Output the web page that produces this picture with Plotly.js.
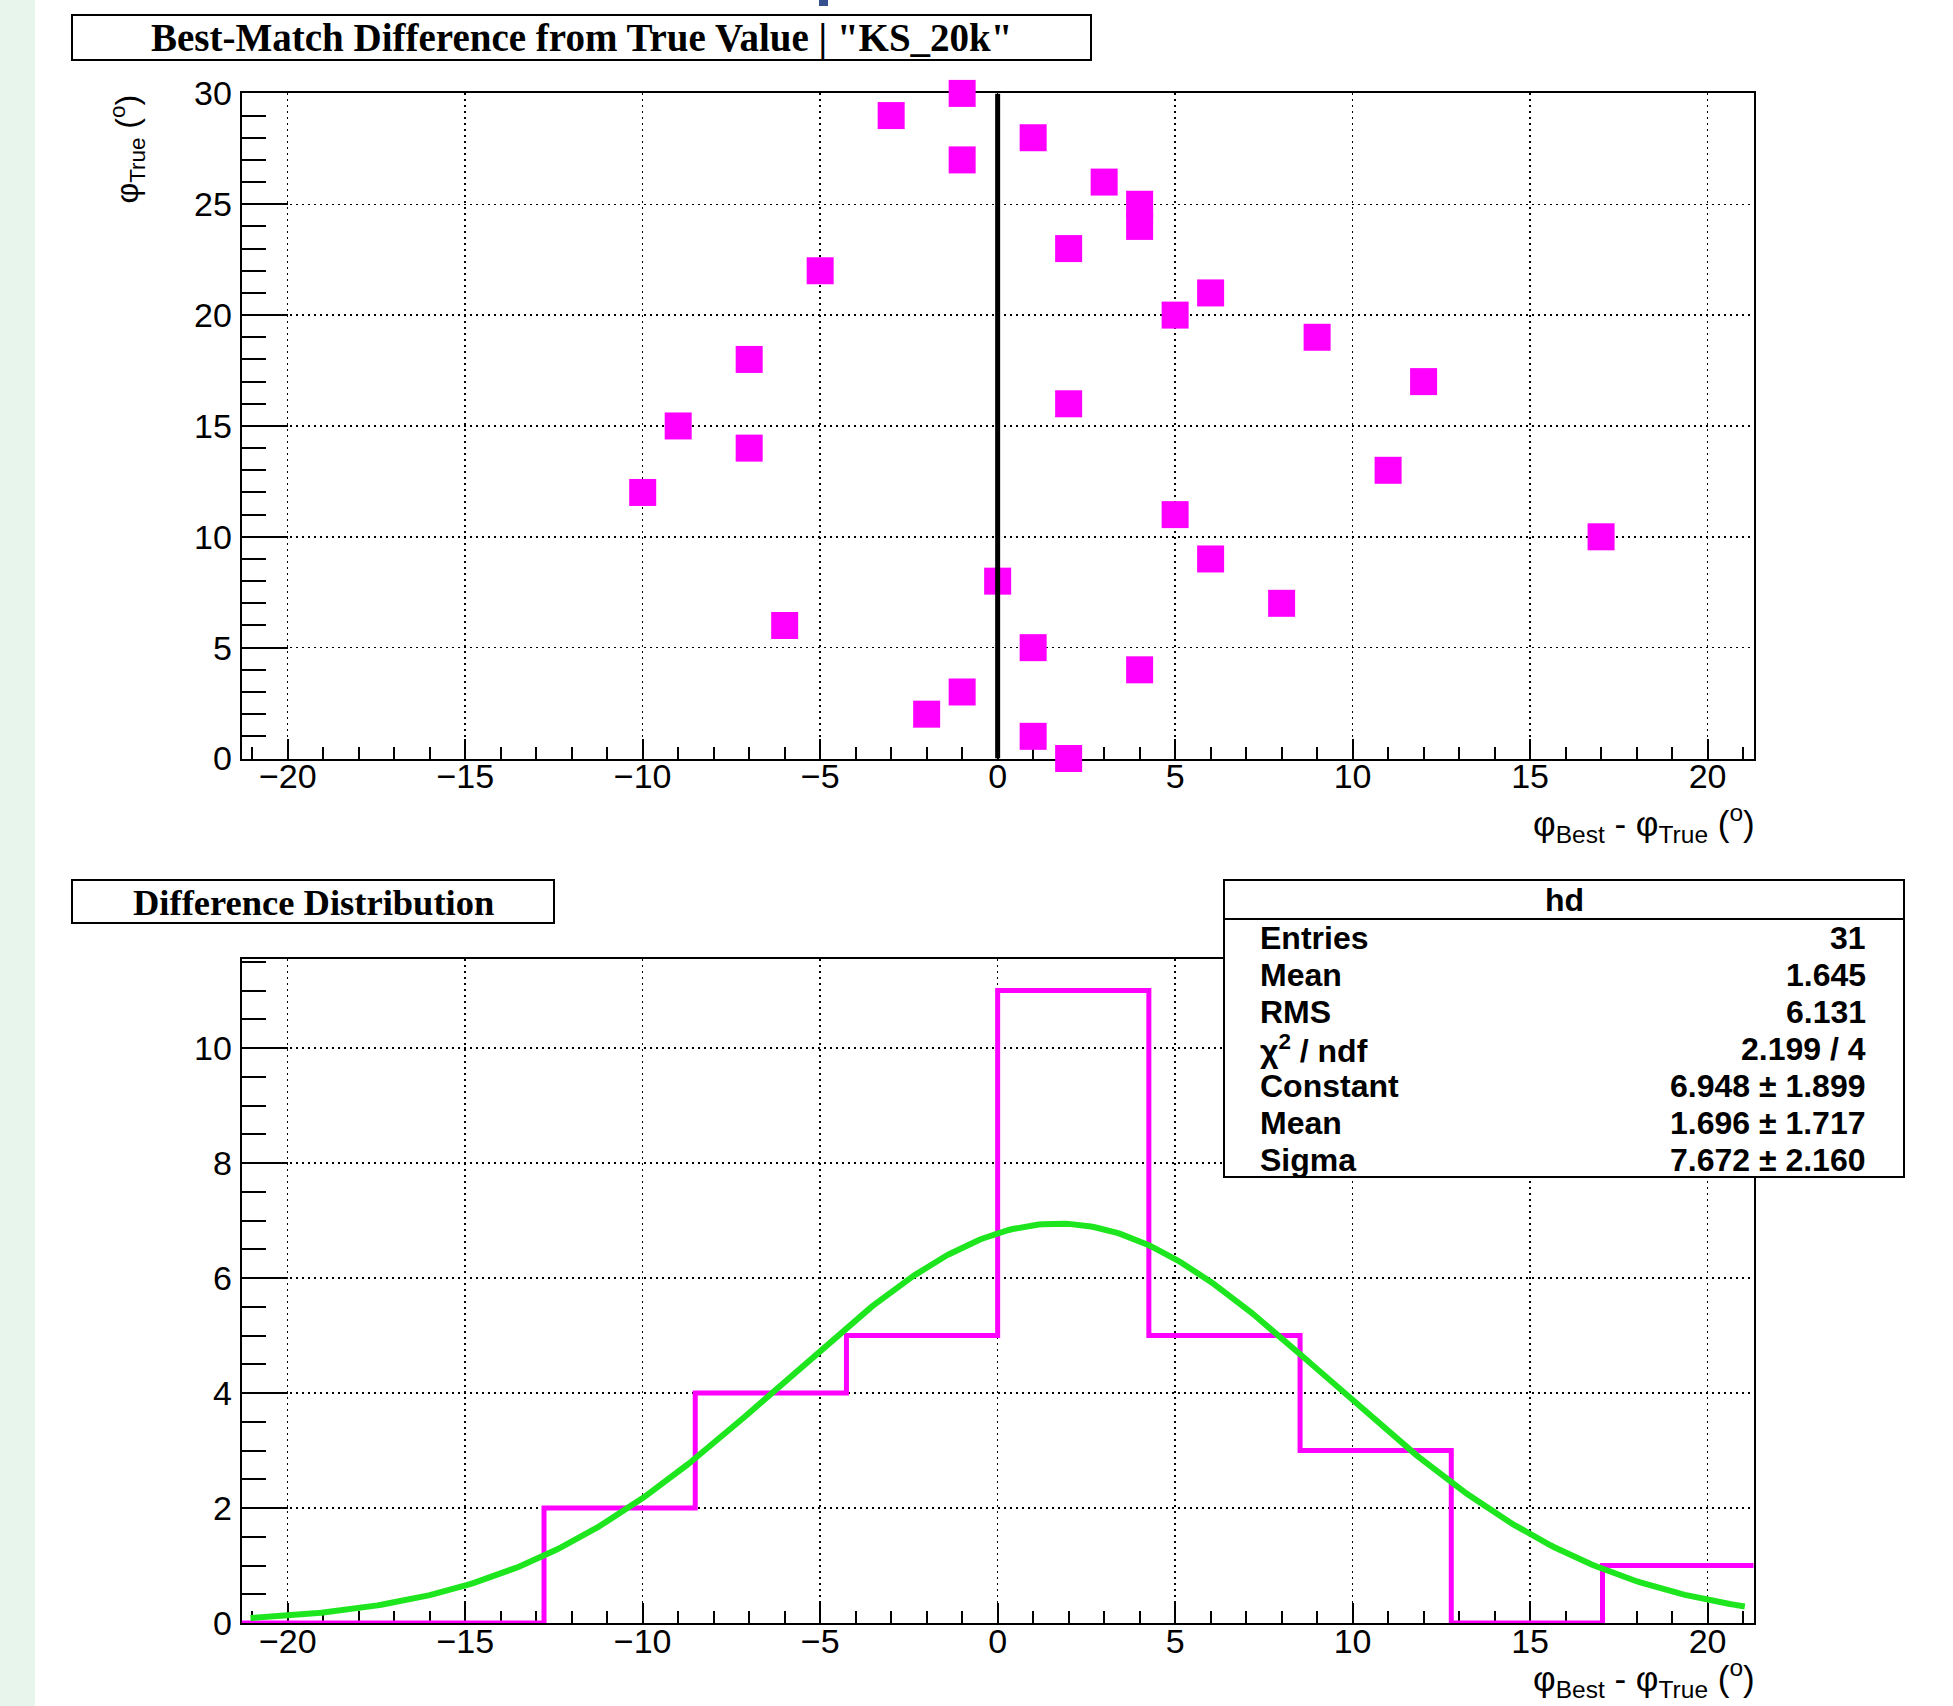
<!DOCTYPE html>
<html><head><meta charset="utf-8">
<script src="https://cdn.plot.ly/plotly-3.0.1.min.js"></script>
<style>html,body{margin:0;padding:0;background:#fff;} #chart{width:1953px;height:1706px;}</style>
</head><body><div id="chart"></div>
<script>
// ---- Top panel: best-match difference vs true value ----
const diffBestTrue = [-1,-3,1,-1,3,4,4,2,-5,6,5,9,-7,12,2,-9,-7,11,-10,5,17,6,0,8,-6,1,4,-1,-2,1,2];
const phiTrue      = [30,29,28,27,26,25,24,23,22,21,20,19,18,17,16,15,14,13,12,11,10,9,8,7,6,5,4,3,2,1,0];
const zeroLineX = [0, 0];
const zeroLineY = [0, 30];

// ---- Bottom panel: difference distribution ----
const binEdges  = [-21.3,-17.04,-12.78,-8.52,-4.26,0,4.26,8.52,12.78,17.04,21.3];
const binCounts = [0,0,2,4,5,11,5,3,0,1];

// Gaussian fit parameters (as printed in the stats box)
const fitConstant = 6.948, fitMean = 1.696, fitSigma = 7.672;
const fitRange = [-21.05, 21.05];

// Stats box
const statsTitle = 'hd';
const statLabels = ['Entries','Mean','RMS','\u03c7<sup>2</sup> / ndf','Constant','Mean','Sigma'];
const statValues = ['31','1.645','6.131','2.199 / 4','6.948 \u00b1 1.899','1.696 \u00b1 1.717','7.672 \u00b1 2.160'];

const topTitle = 'Best-Match Difference from True Value | "KS_20k"';
const bottomTitle = 'Difference Distribution';
const xTitle = '\u03c6<sub>Best</sub> - \u03c6<sub>True</sub> (<sup>o</sup>)';
const yTitleTop = '\u03c6<sub>True</sub> (<sup>o</sup>)';

// ---------------------------------------------------------
const W = 1953, H = 1706;
const fx = p => p / W;
const fy = p => 1 - p / H;

// fit curve evaluated from the fitted parameters (ROOT TF1 "gaus")
const fitX = [], fitY = [];
for (let i = 0; i <= 400; i++) {
  const x = fitRange[0] + (fitRange[1] - fitRange[0]) * i / 400;
  fitX.push(x);
  fitY.push(fitConstant * Math.exp(-0.5 * Math.pow((x - fitMean) / fitSigma, 2)));
}

const histX = binEdges.slice();
const histY = binCounts.concat([binCounts[binCounts.length - 1]]);

const traces = [
  {type:'scatter', mode:'markers', x: diffBestTrue, y: phiTrue, xaxis:'x', yaxis:'y',
   marker:{symbol:'square', size:27, color:'#ff00ff', line:{width:0}}, cliponaxis:false, hoverinfo:'skip'},
  {type:'scatter', mode:'lines', x: zeroLineX, y: zeroLineY, xaxis:'x', yaxis:'y',
   line:{color:'#000000', width:5}, cliponaxis:false, hoverinfo:'skip'},
  {type:'scatter', mode:'lines', x: histX, y: histY, xaxis:'x2', yaxis:'y2',
   line:{color:'#ff00ff', width:5, shape:'hv'}, cliponaxis:false, hoverinfo:'skip'},
  {type:'scatter', mode:'lines', x: fitX, y: fitY, xaxis:'x2', yaxis:'y2',
   line:{color:'#1ee61e', width:6}, cliponaxis:false, hoverinfo:'skip'}
];

const tickFont = {family:'Liberation Sans, Arial, sans-serif', size:34, color:'#000'};
function xAxis(anchor) {
  return {
    anchor: anchor, domain:[fx(241.6), fx(1753.7)], range:[-21.3, 21.3],
    tick0:0, dtick:5, ticks:'inside', ticklen:20, tickwidth:2, tickcolor:'#000',
    minor:{tick0:0, dtick:1, ticks:'inside', ticklen:12, tickwidth:2, tickcolor:'#000', showgrid:false},
    showline:true, linecolor:'#000', linewidth:2, mirror:true,
    showgrid:true, gridcolor:'#000', gridwidth:1.5, griddash:'2px,4px',
    zeroline:false, tickfont:tickFont, layer:'below traces', fixedrange:true, ticklabelstandoff:-13
  };
}
function yAxis(anchor, dom, rng, dt, mdt, tl, mtl) {
  return {
    anchor: anchor, domain: dom, range: rng,
    tick0:0, dtick:dt, ticks:'inside', ticklen:tl, tickwidth:2, tickcolor:'#000',
    minor:{tick0:0, dtick:mdt, ticks:'inside', ticklen:mtl, tickwidth:2, tickcolor:'#000', showgrid:false},
    showline:true, linecolor:'#000', linewidth:2, mirror:true,
    showgrid:true, gridcolor:'#000', gridwidth:1.5, griddash:'2px,4px',
    zeroline:false, tickfont:tickFont, layer:'below traces', fixedrange:true, ticklabelstandoff:1
  };
}

const shapes = [
  {type:'rect', xref:'paper', yref:'paper', x0:0, x1:fx(35), y0:0, y1:1, fillcolor:'#e8f5ec', line:{width:0}, layer:'below'},
  {type:'rect', xref:'paper', yref:'paper', x0:fx(819), x1:fx(828), y0:fy(6), y1:1, fillcolor:'#34508f', line:{width:0}, layer:'above'},
  {type:'rect', xref:'paper', yref:'paper', x0:fx(72), x1:fx(1091), y0:fy(60), y1:fy(15), fillcolor:'#fff', line:{color:'#000', width:2}, layer:'above'},
  {type:'rect', xref:'paper', yref:'paper', x0:fx(72), x1:fx(554), y0:fy(923), y1:fy(880), fillcolor:'#fff', line:{color:'#000', width:2}, layer:'above'},
  {type:'rect', xref:'paper', yref:'paper', x0:fx(1224), x1:fx(1904), y0:fy(1177), y1:fy(880), fillcolor:'#fff', line:{color:'#000', width:2}, layer:'above'},
  {type:'line', xref:'paper', yref:'paper', x0:fx(1224), x1:fx(1904), y0:fy(919), y1:fy(919), line:{color:'#000', width:2}, layer:'above'}
];

const sansBold = {family:'Liberation Sans, Arial, sans-serif', size:32, color:'#000', weight:'bold'};
const annotations = [
  {text: topTitle, xref:'paper', yref:'paper', x:fx(581.5), y:fy(38), xanchor:'center', yanchor:'middle', showarrow:false,
   font:{family:'Liberation Serif, Times New Roman, serif', size:39, color:'#000', weight:'bold'}},
  {text: bottomTitle, xref:'paper', yref:'paper', x:fx(313), y:fy(902), xanchor:'center', yanchor:'middle', showarrow:false,
   font:{family:'Liberation Serif, Times New Roman, serif', size:36.5, color:'#000', weight:'bold'}},
  {text: statsTitle, xref:'paper', yref:'paper', x:fx(1564), y:fy(900), xanchor:'center', yanchor:'middle', showarrow:false, font:sansBold},
  {text: xTitle, xref:'paper', yref:'paper', x:fx(1757), y:fy(823), xanchor:'right', yanchor:'middle', showarrow:false,
   font:{family:'Liberation Sans, Arial, sans-serif', size:35, color:'#000'}},
  {text: xTitle, xref:'paper', yref:'paper', x:fx(1757), y:fy(1678), xanchor:'right', yanchor:'middle', showarrow:false,
   font:{family:'Liberation Sans, Arial, sans-serif', size:35, color:'#000'}},
  {text: yTitleTop, xref:'paper', yref:'paper', x:fx(127), y:fy(93), xanchor:'center', yanchor:'top', textangle:-90, showarrow:false,
   font:{family:'Liberation Sans, Arial, sans-serif', size:32, color:'#000'}}
];
statLabels.forEach((lab, i) => {
  const yy = 938 + 37 * i;
  annotations.push({text: lab, xref:'paper', yref:'paper', x:fx(1258), y:fy(yy), xanchor:'left', yanchor:'middle', showarrow:false, font:sansBold});
  annotations.push({text: statValues[i], xref:'paper', yref:'paper', x:fx(1868), y:fy(yy), xanchor:'right', yanchor:'middle', showarrow:false, font:sansBold});
});

const layout = {
  width:W, height:H, margin:{l:0, r:0, t:0, b:0},
  paper_bgcolor:'#ffffff', plot_bgcolor:'#ffffff', showlegend:false,
  xaxis: xAxis('y'),
  yaxis: yAxis('x', [fy(758.5), fy(93.4)], [0, 30], 5, 1, 46, 24),
  xaxis2: xAxis('y2'),
  yaxis2: yAxis('x2', [fy(1623), fy(959)], [0, 11.55], 2, 0.5, 46, 24),
  shapes: shapes,
  annotations: annotations
};

Plotly.newPlot('chart', traces, layout, {staticPlot:true, displayModeBar:false});
</script>
</body></html>
